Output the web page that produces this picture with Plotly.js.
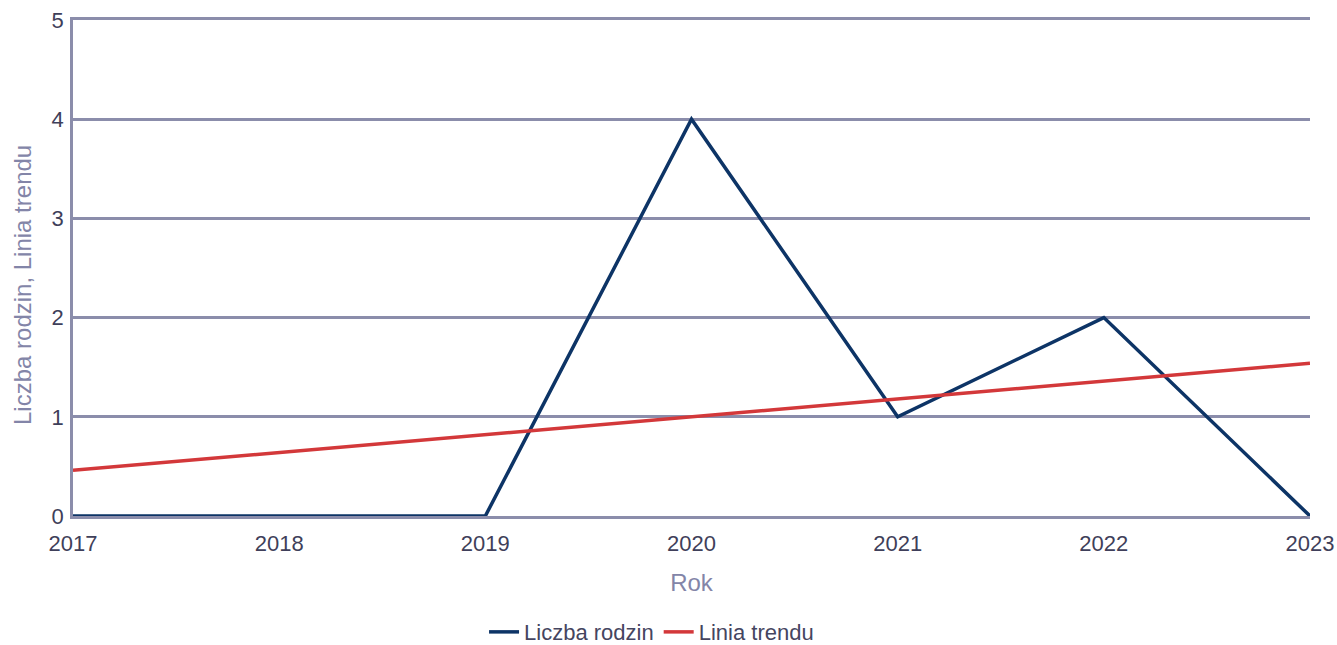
<!DOCTYPE html>
<html><head><meta charset="utf-8">
<script src="https://cdn.plot.ly/plotly-3.0.1.min.js"></script>
<style>html,body{margin:0;padding:0;background:#fff}#chart{width:1337px;height:645px}</style>
</head><body><div id="chart"></div>
<script>
const years = ['2017','2018','2019','2020','2021','2022','2023'];
const liczbaRodzin = [0, 0, 0, 4, 1, 2, 0];
const liniaTrendu = [0.46, 0.64, 0.82, 1.0, 1.18, 1.36, 1.54];
const seriesNames = ['Liczba rodzin', 'Linia trendu'];
const yTitle = 'Liczba rodzin, Linia trendu';
const xTitle = 'Rok';

const gridColor = '#8b8dab';
const tickColor = '#3f3f5a';
const titleColor = '#8385a8';

const traces = [
  {x: years, y: liczbaRodzin, name: seriesNames[0], type: 'scatter', mode: 'lines',
   line: {color: '#0d3466', width: 3.5}},
  {x: years, y: liniaTrendu, name: seriesNames[1], type: 'scatter', mode: 'lines',
   line: {color: '#d3383a', width: 3.5}}
];

const layout = {
  width: 1337, height: 645,
  margin: {l: 73, r: 27, t: 20, b: 129, autoexpand: false},
  paper_bgcolor: '#fff', plot_bgcolor: '#fff',
  font: {family: 'Liberation Sans, Arial, sans-serif', size: 22, color: tickColor},
  showlegend: true,
  legend: {orientation: 'h', x: 0.4677, xanchor: 'center', y: -0.234, yanchor: 'middle',
    font: {size: 22, color: '#45455f'}, itemwidth: 30, tracegroupgap: 0},
  xaxis: {
    type: 'category', range: [0, 6], showgrid: false, zeroline: false,
    showline: true, mirror: true, linecolor: gridColor, linewidth: 2.5,
    ticks: '', tickfont: {size: 22, color: tickColor}, ticklabelstandoff: 6,
    automargin: false,
    title: {text: xTitle, font: {size: 24, color: titleColor}, standoff: 20}
  },
  yaxis: {
    range: [0, 5], dtick: 1, showgrid: true, gridcolor: gridColor, gridwidth: 2.5,
    zeroline: false, showline: true, linecolor: gridColor, linewidth: 2.5,
    ticks: '', tickfont: {size: 22, color: tickColor}, ticklabelstandoff: 2,
    automargin: false
  },
  annotations: [{
    text: yTitle, textangle: -90, showarrow: false,
    xref: 'paper', yref: 'paper', x: (22 - 73) / 1237, y: (516 - 285) / 496,
    xanchor: 'center', yanchor: 'middle',
    font: {size: 24, color: titleColor}
  }]
};

Plotly.newPlot('chart', traces, layout, {displayModeBar: false, responsive: false});
</script></body></html>
